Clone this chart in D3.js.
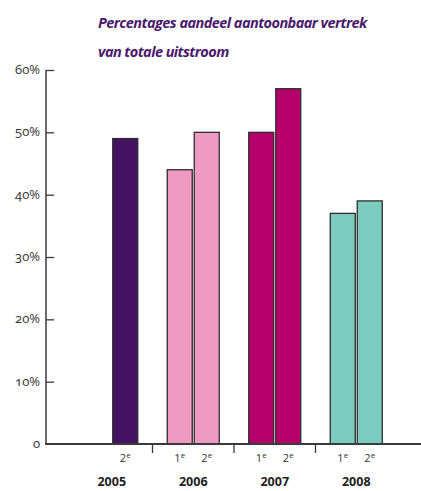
<!DOCTYPE html>
<html><head><meta charset="utf-8">
<script src="https://cdn.jsdelivr.net/npm/d3@7"></script>
<style>
body{margin:0;background:#fff;}
svg{display:block;}
</style></head>
<body>
<svg id="c" width="421" height="491"></svg>
<script>
const years = ["2005","2006","2007","2008"];
const halves = ["1","2"];
const firstHalf = [null, 44, 50, 37];
const secondHalf = [49, 50, 57, 39];
const yearColors = ["#441462","#f09ac1","#b5006b","#7bccbf"];
const yTicks = [0,10,20,30,40,50,60];
const titleLines = ["Percentages aandeel aantoonbaar vertrek","van totale uitstroom"];

const svg = d3.select("#c");
const y = d3.scaleLinear().domain([0,60]).range([444,70]);
const x0 = d3.scaleBand().domain(years).range([71,397]);
const x1 = d3.scaleBand().domain(halves).range([14.75,66.75]).paddingInner(0.074);

// title
svg.selectAll("text.title").data(titleLines).join("text")
  .attr("class","title")
  .attr("x",98).attr("y",(d,i)=>28+i*29)
  .attr("fill","#4b1a6d")
  .attr("font-family","'Open Sans', sans-serif")
  .attr("font-style","italic").attr("font-weight",700)
  .attr("font-size",14.5).attr("letter-spacing",-0.55)
  .text(d=>d);

// bars
const data = [];
years.forEach((yr,i)=>{
  if(firstHalf[i]!=null) data.push({year:yr,half:"1",v:firstHalf[i],c:yearColors[i]});
  if(secondHalf[i]!=null) data.push({year:yr,half:"2",v:secondHalf[i],c:yearColors[i]});
});
svg.selectAll("rect.bar").data(data).join("rect")
  .attr("class","bar")
  .attr("x",d=>x0(d.year)+x1(d.half))
  .attr("width",x1.bandwidth())
  .attr("y",d=>y(d.v))
  .attr("height",d=>y(0)-y(d.v))
  .attr("fill",d=>d.c)
  .attr("stroke","#2e2e2e").attr("stroke-width",1.3);

// y axis
const yAxis = svg.append("g").attr("transform","translate(46,0)")
  .call(d3.axisRight(y).tickValues(yTicks).tickSize(8).tickFormat(""));
yAxis.select(".domain").attr("stroke","#3a3a3a").attr("stroke-width",1.5).attr("d","M0,70V444");
yAxis.selectAll(".tick line").attr("stroke","#3a3a3a").attr("stroke-width",1.3);
yAxis.selectAll(".tick").filter(d=>d===0).select("line").remove();
svg.selectAll("text.ylab").data(yTicks).join("text")
  .attr("class","ylab")
  .attr("x",40).attr("y",d=>y(d)+4)
  .attr("text-anchor","end")
  .attr("fill","#333")
  .attr("font-family","'Open Sans', sans-serif")
  .style("font-feature-settings","'onum'")
  .attr("font-size",13)
  .text(d=>d===0?"0":d+"%");

// baseline
svg.append("line").attr("x1",45).attr("x2",421).attr("y1",y(0)).attr("y2",y(0))
  .attr("stroke","#3a3a3a").attr("stroke-width",1.8);

// group separators
svg.selectAll("line.sep").data(years.slice(1)).join("line")
  .attr("class","sep")
  .attr("x1",d=>x0(d)).attr("x2",d=>x0(d))
  .attr("y1",y(0)).attr("y2",y(0)+9)
  .attr("stroke","#3a3a3a").attr("stroke-width",1.3);

// half labels
const subData = data.map(d=>({year:d.year,half:d.half}));
const sub = svg.selectAll("text.sub").data(subData).join("text")
  .attr("class","sub")
  .attr("x",d=>x0(d.year)+x1(d.half)+x1.bandwidth()/2)
  .attr("y",462)
  .attr("text-anchor","middle")
  .attr("fill","#333")
  .attr("font-family","'Open Sans', sans-serif")
  .attr("font-size",11);
sub.append("tspan").text(d=>d.half);
sub.append("tspan").attr("dy",-4).attr("font-size",8).text("e");

// year labels
svg.selectAll("text.year").data(years).join("text")
  .attr("class","year")
  .attr("x",d=>x0(d)+x0.bandwidth()/2)
  .attr("y",486)
  .attr("text-anchor","middle")
  .attr("fill","#222")
  .attr("font-family","'Open Sans', sans-serif")
  .attr("font-weight",700)
  .attr("font-size",12.5)
  .text(d=>d);
</script>
</body></html>
